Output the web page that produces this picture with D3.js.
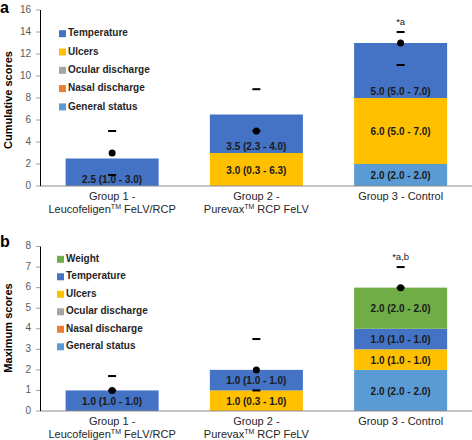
<!DOCTYPE html>
<html><head><meta charset="utf-8">
<script src="https://cdn.jsdelivr.net/npm/d3@7"></script>
<style>body{margin:0;background:#fff}svg{display:block}text{font-family:"Liberation Sans",Arial,Helvetica,sans-serif}</style>
</head><body><svg id="c" width="472" height="440"></svg>
<script>
// ---------- DATA ----------
const categories = [["Group 1 -", "Leucofeligen\u2122 FeLV/RCP"], ["Group 2 -", "Purevax\u2122 RCP FeLV"], ["Group 3 - Control"]];
const colors = {"General status":"#5B9BD5","Nasal discharge":"#ED7D31","Ocular discharge":"#A5A5A5","Ulcers":"#FFC000","Temperature":"#4472C4","Weight":"#70AD47"};

// Panel a: cumulative scores
const aGeneral = [0, 0, 2.0];
const aNasal = [0, 0, 0];
const aOcular = [0, 0, 0];
const aUlcers = [0, 3.0, 6.0];
const aTemperature = [2.5, 3.5, 5.0];
const aLabelsGeneral = ["", "", "2.0 (2.0 - 2.0)"];
const aLabelsUlcers = ["", "3.0 (0.3 - 6.3)", "6.0 (5.0 - 7.0)"];
const aLabelsTemperature = ["2.5 (1.0 - 3.0)", "3.5 (2.3 - 4.0)", "5.0 (5.0 - 7.0)"];
const aDots = [3.0, 5.0, 13.0];
const aUpper = [5.0, 8.8, 14.0];
const aLower = [1.0, 5.0, 11.0];
const aNotes = ["", "", "*a"];
const aTicks = [0, 2, 4, 6, 8, 10, 12, 14, 16];

// Panel b: maximum scores
const bGeneral = [0, 0, 2.0];
const bNasal = [0, 0, 0];
const bOcular = [0, 0, 0];
const bUlcers = [0, 1.0, 1.0];
const bTemperature = [1.0, 1.0, 1.0];
const bWeight = [0, 0, 2.0];
const bLabelsGeneral = ["", "", "2.0 (2.0 - 2.0)"];
const bLabelsUlcers = ["", "1.0 (0.3 - 1.0)", "1.0 (1.0 - 1.0)"];
const bLabelsTemperature = ["1.0 (1.0 - 1.0)", "1.0 (1.0 - 1.0)", "1.0 (1.0 - 1.0)"];
const bLabelsWeight = ["", "", "2.0 (2.0 - 2.0)"];
const bDots = [1.0, 2.0, 6.0];
const bUpper = [1.7, 3.5, 7.0];
const bLower = [1.0, 1.0, 6.0];
const bNotes = ["", "", "*a,b"];
const bTicks = [0, 1, 2, 3, 4, 5, 6, 7, 8];

// ---------- DRAW ----------
const svg = d3.select("#c");

function panel(cfg) {
  const g = svg.append("g");
  const y = d3.scaleLinear().domain([0, cfg.max]).range([cfg.y0, cfg.y1]);
  const x = d3.scaleBand().domain(d3.range(categories.length)).range([40, 472.75]).paddingInner(0.355).paddingOuter(0.1775);

  const rows = d3.range(categories.length).map(i => {
    const r = {i};
    cfg.series.forEach(s => r[s.name] = s.values[i]);
    return r;
  });
  const stack = d3.stack().keys(cfg.series.map(s => s.name))(rows);

  stack.forEach((layer, li) => {
    const s = cfg.series[li];
    g.append("g").selectAll("rect").data(layer).join("rect")
      .attr("x", d => x(d.data.i))
      .attr("width", x.bandwidth())
      .attr("y", d => y(d[1]))
      .attr("height", d => y(d[0]) - y(d[1]))
      .attr("fill", colors[s.name]);
  });

  stack.forEach((layer, li) => {
    const s = cfg.series[li];
    if (!s.labels) return;
    g.append("g").selectAll("text").data(layer).join("text")
      .attr("x", d => x(d.data.i) + x.bandwidth() / 2)
      .attr("y", d => s.atBase ? y(d[0]) - 5.5 : (y(d[0]) + y(d[1])) / 2 + 1.5)
      .attr("text-anchor", "middle")
      .attr("dominant-baseline", "middle")
      .attr("font-size", 10).attr("font-weight", "bold").attr("fill", "#1a1a1a")
      .text(d => s.labels[d.data.i]);
  });

  // axes
  g.append("line").attr("x1", 40).attr("x2", 472).attr("y1", y(0)).attr("y2", y(0))
    .attr("stroke", "#8c8c8c").attr("stroke-width", 1);
  g.append("line").attr("x1", 40.5).attr("x2", 40.5).attr("y1", y(0)).attr("y2", y(cfg.max))
    .attr("stroke", "#000").attr("stroke-width", 1);
  const tk = g.append("g").selectAll("g").data(cfg.ticks).join("g");
  tk.append("line").attr("x1", 36).attr("x2", 40).attr("y1", d => y(d)).attr("y2", d => y(d))
    .attr("stroke", "#a0a0a0").attr("stroke-width", 1);
  tk.append("text").attr("x", 31).attr("y", d => y(d)).attr("text-anchor", "end")
    .attr("dominant-baseline", "middle").attr("font-size", 10).attr("fill", "#595959").text(d => d);

  // category labels (™ drawn as superscript TM)
  categories.forEach((lines, i) => {
    lines.forEach((ln, k) => {
      const t = g.append("text").attr("text-anchor", "middle").attr("font-size", 11).attr("fill", "#262626")
        .attr("x", x(i) + x.bandwidth() / 2).attr("y", y(0) + 14 + k * 13);
      const parts = ln.split("\u2122");
      parts.forEach((p, pi) => {
        const ts = t.append("tspan").text(p);
        if (pi > 0) ts.attr("dy", 4);
        if (pi < parts.length - 1) t.append("tspan").attr("font-size", 7).attr("dy", -4).text("TM");
      });
    });
  });

  // markers
  const cx = i => x(i) + x.bandwidth() / 2;
  [cfg.upper, cfg.lower].forEach(arr => {
    g.append("g").selectAll("rect").data(arr.map((v, i) => ({v, i})).filter(d => d.v != null)).join("rect")
      .attr("x", d => cx(d.i) - 4).attr("width", 8)
      .attr("y", d => y(d.v) - 1).attr("height", 2).attr("fill", "#000");
  });
  g.append("g").selectAll("circle").data(cfg.dots).join("circle")
    .attr("cx", (d, i) => cx(i)).attr("cy", d => y(d)).attr("r", 3.5).attr("fill", "#000");
  g.append("g").selectAll("text").data(cfg.notes).join("text")
    .attr("x", (d, i) => cx(i)).attr("y", (d, i) => y(cfg.upper[i]) - 10)
    .attr("text-anchor", "middle").attr("dominant-baseline", "middle")
    .attr("font-size", 9.5).attr("fill", "#1a1a1a").text(d => d);

  // legend
  const leg = cfg.series.slice().reverse();
  leg.forEach((s, k) => {
    const yy = cfg.legY + k * cfg.legStep;
    g.append("rect").attr("x", cfg.legX).attr("y", yy - 3.5).attr("width", 7).attr("height", 7).attr("fill", colors[s.name]);
    g.append("text").attr("x", cfg.legX + 9).attr("y", yy).attr("dominant-baseline", "middle")
      .attr("font-size", 10).attr("font-weight", "bold").attr("fill", "#262626").text(s.name);
  });

  g.append("text").attr("transform", `translate(12,${cfg.titleY}) rotate(-90)`).attr("text-anchor", "middle")
    .attr("font-size", 11).attr("font-weight", "bold").attr("fill", "#000").text(cfg.title);
  g.append("text").attr("x", 0).attr("y", cfg.letterY).attr("font-size", 16).attr("font-weight", "bold").text(cfg.letter);
}

panel({
  max: 16, y0: 186, y1: 10, ticks: aTicks,
  series: [
    {name: "General status", values: aGeneral, labels: aLabelsGeneral},
    {name: "Nasal discharge", values: aNasal},
    {name: "Ocular discharge", values: aOcular},
    {name: "Ulcers", values: aUlcers, labels: aLabelsUlcers},
    {name: "Temperature", values: aTemperature, labels: aLabelsTemperature, atBase: true}
  ],
  dots: aDots, upper: aUpper, lower: aLower, notes: aNotes,
  legX: 59, legY: 33.7, legStep: 18.3,
  title: "Cumulative scores", titleY: 100, letter: "a", letterY: 13
});

panel({
  max: 8, y0: 411, y1: 246.5, ticks: bTicks,
  series: [
    {name: "General status", values: bGeneral, labels: bLabelsGeneral},
    {name: "Nasal discharge", values: bNasal},
    {name: "Ocular discharge", values: bOcular},
    {name: "Ulcers", values: bUlcers, labels: bLabelsUlcers},
    {name: "Temperature", values: bTemperature, labels: bLabelsTemperature},
    {name: "Weight", values: bWeight, labels: bLabelsWeight}
  ],
  dots: bDots, upper: bUpper, lower: bLower, notes: bNotes,
  legX: 57, legY: 259.3, legStep: 17.5,
  title: "Maximum scores", titleY: 328, letter: "b", letterY: 247
});
</script></body></html>
